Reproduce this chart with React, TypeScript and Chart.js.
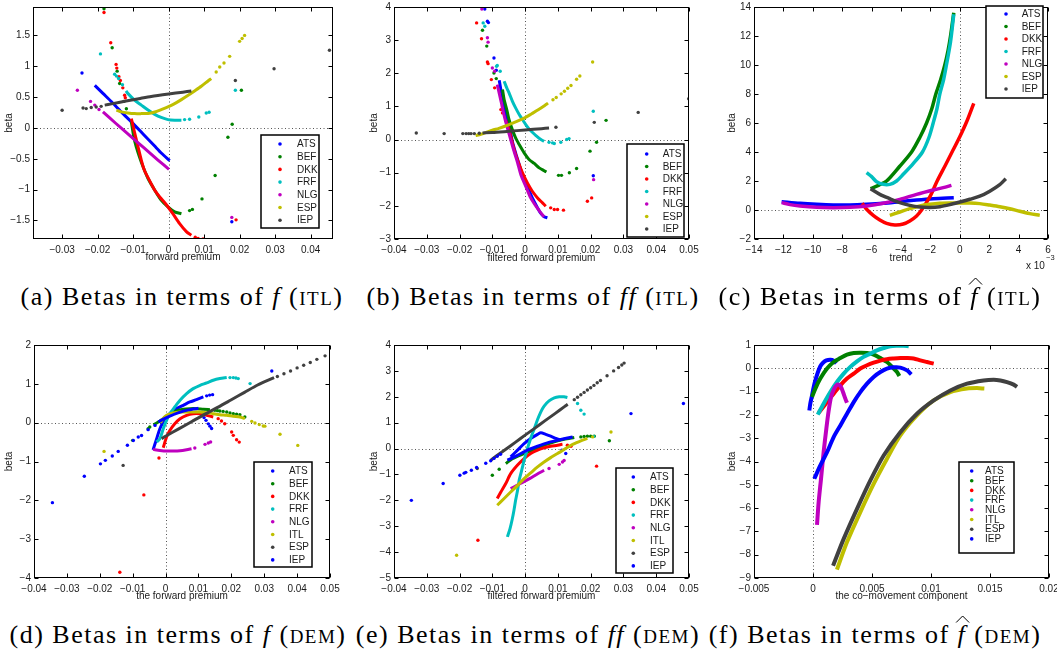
import React, { useEffect, useRef } from 'react';
import { Chart, registerables } from 'chart.js';
Chart.register(...registerables);

type Pt = [number, number];

// ---------- colours & series names ----------
const BLUE = '#0000ff', GREEN = '#008000', RED = '#ff0000', CYAN = '#00bfbf', MAGENTA = '#bf00bf', YELLOW = '#bfbf00', GRAY = '#404040';
const NAMES_ITL = ['ATS', 'BEF', 'DKK', 'FRF', 'NLG', 'ESP', 'IEP'];
const COLORS_ITL = [BLUE, GREEN, RED, CYAN, MAGENTA, YELLOW, GRAY];
const NAMES_DEM = ['ATS', 'BEF', 'DKK', 'FRF', 'NLG', 'ITL', 'ESP', 'IEP'];
const COLORS_DEM = [BLUE, GREEN, RED, CYAN, MAGENTA, YELLOW, GRAY, BLUE];

// ---------- ticks ----------
const A_XTICKS = [-0.03, -0.02, -0.01, 0, 0.01, 0.02, 0.03, 0.04];
const A_YTICKS = [-1.5, -1, -0.5, 0, 0.5, 1, 1.5];
const B_XTICKS = [-0.04, -0.03, -0.02, -0.01, 0, 0.01, 0.02, 0.03, 0.04, 0.05];
const B_YTICKS = [-3, -2, -1, 0, 1, 2, 3, 4];
const C_XTICKS = [-14, -12, -10, -8, -6, -4, -2, 0, 2, 4, 6];
const C_YTICKS = [-2, 0, 2, 4, 6, 8, 10, 12, 14];
const D_XTICKS = [-0.04, -0.03, -0.02, -0.01, 0, 0.01, 0.02, 0.03, 0.04, 0.05];
const D_YTICKS = [-4, -3, -2, -1, 0, 1, 2];
const E_XTICKS = [-0.04, -0.03, -0.02, -0.01, 0, 0.01, 0.02, 0.03, 0.04, 0.05];
const E_YTICKS = [-5, -4, -3, -2, -1, 0, 1, 2, 3, 4];
const F_XTICKS = [-0.005, 0, 0.005, 0.01, 0.015, 0.02];
const F_YTICKS = [-9, -8, -7, -6, -5, -4, -3, -2, -1, 0, 1];

// ---------- (a) betas vs f (ITL) ----------
const A_ATS_LINE: Pt[] = [[-0.0208,0.69],[-0.0185,0.56],[-0.016,0.42],[-0.013,0.24],[-0.010,0.07],[-0.007,-0.11],[-0.004,-0.29],[-0.002,-0.41],[0.0003,-0.53]];
const A_ATS_DOTS: Pt[] = [[-0.0244,0.89],[0.0178,-1.52]];
const A_BEF_LINE: Pt[] = [[-0.0105,0.10],[-0.0098,-0.15],[-0.0091,-0.31],[-0.0082,-0.47],[-0.0072,-0.63],[-0.0058,-0.82],[-0.0039,-1.01],[-0.0021,-1.17],[-0.0002,-1.28],[0.0017,-1.36],[0.0036,-1.39]];
const A_BEF_DOTS: Pt[] = [[-0.0182,1.93],[-0.0159,1.30],[-0.0145,0.92],[-0.0138,0.72],[-0.0126,0.43],[-0.0119,0.31],[0.0059,-1.34],[0.0067,-1.32],[0.0094,-1.15],[0.0131,-0.77],[0.0167,-0.15],[0.0179,0.06],[0.0205,0.61]];
const A_DKK_LINE: Pt[] = [[-0.0105,0.15],[-0.0096,-0.07],[-0.0086,-0.31],[-0.0077,-0.52],[-0.0068,-0.69],[-0.0054,-0.85],[-0.0039,-1.01],[-0.0025,-1.12],[-0.0007,-1.24],[0.0012,-1.39],[0.0031,-1.55],[0.0050,-1.68],[0.0064,-1.74]];
const A_DKK_DOTS: Pt[] = [[-0.0182,1.87],[-0.0163,1.38],[-0.0148,1.03],[-0.0146,0.97],[-0.0140,0.83],[-0.0136,0.77],[-0.0129,0.65],[-0.0124,0.53],[-0.0122,0.49],[0.0075,-1.77],[0.0083,-1.79],[0.0097,-1.80],[0.0120,-1.81],[0.0190,-1.49]];
const A_FRF_LINE: Pt[] = [[-0.0120,0.60],[-0.0115,0.56],[-0.0096,0.45],[-0.0077,0.37],[-0.0058,0.29],[-0.0039,0.22],[-0.0021,0.17],[-0.0002,0.135],[0.0017,0.124],[0.0036,0.124]];
const A_FRF_DOTS: Pt[] = [[-0.0192,1.20],[-0.0152,0.87],[-0.0147,0.84],[-0.0141,0.80],[-0.0130,0.70],[0.0045,0.135],[0.0059,0.14],[0.0085,0.178],[0.0106,0.243],[0.0114,0.254],[0.0188,0.61]];
const A_NLG_LINE: Pt[] = [[-0.0185,0.26],[-0.015,0.08],[-0.011,-0.12],[-0.007,-0.32],[-0.003,-0.52],[0.0001,-0.67]];
const A_NLG_DOTS: Pt[] = [[-0.0257,0.61],[-0.0220,0.43],[-0.0208,0.37],[-0.0196,0.30],[0.0178,-1.45]];
const A_ESP_LINE: Pt[] = [[-0.0147,0.29],[-0.0133,0.26],[-0.0115,0.243],[-0.0096,0.232],[-0.0077,0.232],[-0.0058,0.235],[-0.0039,0.259],[-0.0021,0.297],[-0.0002,0.34],[0.0017,0.394],[0.0036,0.459],[0.0055,0.529],[0.0073,0.599],[0.0092,0.675],[0.0111,0.761],[0.0120,0.80]];
const A_ESP_DOTS: Pt[] = [[0.0134,0.907],[0.0144,0.988],[0.0156,1.052],[0.0172,1.16],[0.0200,1.403],[0.0207,1.45],[0.0214,1.50]];
const A_IEP_LINE: Pt[] = [[-0.0180,0.37],[-0.0161,0.39],[-0.0120,0.435],[-0.0080,0.478],[-0.0049,0.51],[0.0,0.55],[0.0040,0.58],[0.0064,0.60]];
const A_IEP_DOTS: Pt[] = [[-0.0300,0.286],[-0.0241,0.324],[-0.0232,0.313],[-0.0218,0.33],[-0.0204,0.34],[-0.0190,0.35],[0.0188,0.77],[0.0297,0.96],[0.0453,1.26]];

// ---------- (b) betas vs ff (ITL) ----------
const B_ATS_LINE: Pt[] = [[-0.0079,1.79],[-0.0074,1.51],[-0.0069,1.29],[-0.0064,1.06],[-0.0059,0.80],[-0.0054,0.60],[-0.0046,0.30],[-0.0039,-0.05],[-0.0029,-0.40],[-0.0018,-0.75],[-0.0008,-1.06],[0.0007,-1.41],[0.0022,-1.76],[0.0038,-2.06],[0.0048,-2.23],[0.0058,-2.33],[0.0068,-2.36]];
const B_ATS_DOTS: Pt[] = [[-0.0123,3.94],[-0.0115,3.57],[-0.0112,3.53],[-0.0095,2.46],[-0.0088,2.09],[0.0208,-1.09]];
const B_BEF_LINE: Pt[] = [[-0.0069,1.51],[-0.0064,1.21],[-0.0056,0.905],[-0.0049,0.60],[-0.0039,0.30],[-0.0029,0.05],[-0.0018,-0.15],[-0.0003,-0.40],[0.0012,-0.60],[0.0028,-0.72],[0.0043,-0.855],[0.0058,-0.94],[0.0065,-0.98]];
const B_BEF_DOTS: Pt[] = [[-0.0130,3.30],[-0.0117,2.82],[-0.0095,2.01],[-0.0088,1.84],[0.0102,-1.08],[0.0111,-1.08],[0.0135,-1.0],[0.0157,-0.875],[0.0198,-0.35],[0.0218,-0.08],[0.0247,0.58]];
const B_DKK_LINE: Pt[] = [[-0.0060,0.60],[-0.0049,0.30],[-0.0039,-0.10],[-0.0029,-0.45],[-0.0018,-0.755],[-0.0008,-1.006],[0.0007,-1.31],[0.0022,-1.56],[0.0038,-1.76],[0.0053,-1.91],[0.0063,-2.01]];
const B_DKK_DOTS: Pt[] = [[-0.0148,3.52],[-0.0133,3.04],[-0.0115,2.34],[-0.0113,2.29],[-0.0103,1.81],[-0.0093,1.56],[-0.0074,0.905],[-0.0069,0.805],[0.0078,-2.06],[0.0089,-2.11],[0.0099,-2.11],[0.0117,-2.13],[0.0190,-1.86],[0.0203,-1.76]];
const B_FRF_LINE: Pt[] = [[-0.0064,1.76],[-0.0056,1.56],[-0.0049,1.41],[-0.0039,1.16],[-0.0029,0.956],[-0.0018,0.755],[-0.0008,0.604],[0.0002,0.453],[0.0012,0.322],[0.0022,0.221],[0.0033,0.121],[0.0048,0.0],[0.0058,-0.05]];
const B_FRF_DOTS: Pt[] = [[-0.0128,3.52],[-0.0123,3.42],[-0.0087,2.21],[-0.0085,2.24],[-0.0076,2.06],[0.0073,-0.08],[0.0084,-0.10],[0.0089,-0.12],[0.0109,-0.08],[0.0127,0.0],[0.0134,0.03],[0.0208,0.855]];
const B_NLG_LINE: Pt[] = [[-0.0085,1.66],[-0.0077,1.31],[-0.0072,1.09],[-0.0067,0.855],[-0.0061,0.60],[-0.0054,0.35],[-0.0044,0.0],[-0.0034,-0.35],[-0.0023,-0.70],[-0.0013,-1.06],[0.0002,-1.41],[0.0017,-1.76],[0.0033,-2.01],[0.0048,-2.21],[0.0058,-2.33]];
const B_NLG_DOTS: Pt[] = [[-0.0132,3.94],[-0.0115,3.07],[-0.0113,2.94],[-0.0100,2.16],[-0.0093,2.06],[0.0209,-1.21]];
const B_ESP_LINE: Pt[] = [[-0.0151,0.12],[-0.0135,0.16],[-0.012,0.21],[-0.010,0.28],[-0.008,0.34],[-0.006,0.41],[-0.004,0.49],[-0.002,0.57],[0.0,0.66],[0.002,0.78],[0.004,0.90],[0.006,1.03],[0.007,1.10]];
const B_ESP_DOTS: Pt[] = [[0.0085,1.20],[0.0095,1.27],[0.011,1.38],[0.012,1.46],[0.013,1.55],[0.014,1.63],[0.0157,1.82],[0.0167,1.92],[0.0206,2.34]];
const B_IEP_LINE: Pt[] = [[-0.013,0.20],[-0.010,0.21],[-0.005,0.25],[0.0,0.29],[0.005,0.33],[0.0073,0.35]];
const B_IEP_DOTS: Pt[] = [[-0.0332,0.20],[-0.0247,0.18],[-0.0190,0.18],[-0.0180,0.18],[-0.0172,0.18],[-0.0165,0.18],[-0.0155,0.18],[-0.0140,0.19],[0.0094,0.37],[0.0211,0.52],[0.0345,0.82],[0.0499,1.23]];

// ---------- (c) betas vs trend (ITL), x in units of 1e-3 ----------
const C_ATS: Pt[] = [[-12.12,0.575],[-10.87,0.46],[-9.74,0.39],[-8.61,0.345],[-7.47,0.345],[-6.34,0.39],[-5.21,0.46],[-4.08,0.575],[-2.94,0.69],[-1.81,0.78],[-0.41,0.85]];
const C_BEF: Pt[] = [[-6.07,1.47],[-5.5,1.72],[-4.98,2.0],[-4.1,3.0],[-3.28,4.0],[-2.72,5.0],[-2.26,6.0],[-1.9,7.0],[-1.63,8.0],[-1.3,9.0],[-1.02,10.0],[-0.8,11.0],[-0.63,12.0],[-0.41,13.6]];
const C_DKK: Pt[] = [[-6.64,0.46],[-6.34,0.05],[-5.89,-0.37],[-5.44,-0.69],[-4.98,-0.92],[-4.42,-1.03],[-3.85,-0.97],[-3.40,-0.76],[-2.94,-0.41],[-2.60,0.0],[-2.04,0.9],[-1.54,2.0],[-1.0,3.05],[-0.45,4.15],[0.0,5.05],[0.45,6.05],[0.95,7.36]];
const C_FRF: Pt[] = [[-6.34,2.57],[-6.0,2.3],[-5.66,1.95],[-5.21,1.77],[-4.76,1.77],[-4.30,2.0],[-3.85,2.46],[-3.17,3.2],[-2.54,4.0],[-2.1,5.0],[-1.81,6.0],[-1.55,7.0],[-1.36,8.0],[-1.1,9.0],[-0.91,10.0],[-0.63,11.6],[-0.41,13.5]];
const C_NLG: Pt[] = [[-12.12,0.506],[-11.55,0.37],[-10.87,0.276],[-9.74,0.184],[-8.61,0.16],[-7.47,0.184],[-6.34,0.276],[-5.21,0.46],[-4.08,0.736],[-2.94,1.08],[-1.81,1.38],[-1.13,1.54],[-0.57,1.70]];
const C_ESP: Pt[] = [[-4.76,-0.37],[-4.08,-0.14],[-3.40,0.09],[-2.72,0.28],[-2.04,0.39],[-1.36,0.46],[-0.68,0.48],[0.0,0.48],[0.68,0.48],[1.36,0.44],[2.04,0.34],[2.72,0.23],[3.40,0.09],[4.08,-0.09],[4.76,-0.25],[5.44,-0.37]];
const C_IEP: Pt[] = [[-6.07,1.47],[-5.44,1.08],[-4.76,0.78],[-4.08,0.51],[-3.40,0.32],[-2.72,0.21],[-2.04,0.18],[-1.36,0.23],[-0.68,0.37],[0.0,0.55],[0.68,0.74],[1.36,0.95],[2.04,1.3],[2.72,1.75],[3.13,2.16]];

// ---------- (d) betas vs f (DEM) ----------
const D_ATS_LINE: Pt[] = [[-0.0038,-0.70],[-0.0027,-0.41],[-0.0017,-0.15],[-0.0007,0.02],[0.0003,0.146],[0.0013,0.232],[0.0034,0.361],[0.0054,0.447],[0.0074,0.533],[0.0094,0.593],[0.0115,0.662]];
const D_ATS_DOTS: Pt[] = [[0.0125,0.69],[0.0134,0.71],[0.0143,0.722],[0.0117,0.13],[0.0123,0.06],[0.0130,-0.03],[0.0135,-0.09],[0.0140,-0.15],[0.0323,1.33]];
const D_BEF_LINE: Pt[] = [[-0.0037,-0.052],[-0.0027,-0.009],[-0.0017,0.043],[-0.0007,0.103],[0.0013,0.215],[0.0034,0.301],[0.0054,0.344],[0.0074,0.361],[0.0094,0.361],[0.0115,0.344],[0.0135,0.335]];
const D_BEF_DOTS: Pt[] = [[-0.0100,-0.456],[-0.0053,-0.155],[-0.0048,-0.112],[0.0150,0.318],[0.0158,0.31],[0.0165,0.301],[0.0175,0.29],[0.0186,0.275],[0.0196,0.25],[0.0206,0.232],[0.0216,0.22],[0.0226,0.206],[0.0241,0.146]];
const D_DKK_LINE: Pt[] = [[-0.0007,-0.645],[0.0003,-0.37],[0.0013,-0.20],[0.0028,-0.026],[0.0044,0.103],[0.0064,0.19],[0.0084,0.232],[0.0104,0.232],[0.0125,0.19],[0.0145,0.146]];
const D_DKK_DOTS: Pt[] = [[-0.0139,-3.85],[-0.0066,-1.86],[-0.0020,-0.91],[0.0160,0.103],[0.0170,0.043],[0.0180,-0.026],[0.0201,-0.24],[0.0206,-0.327],[0.0216,-0.44],[0.0224,-0.50]];
const D_FRF_LINE: Pt[] = [[-0.0027,-0.50],[-0.0017,-0.41],[-0.0007,-0.155],[0.0003,0.06],[0.0013,0.232],[0.0028,0.404],[0.0044,0.576],[0.0064,0.748],[0.0084,0.877],[0.0105,0.963],[0.0125,1.023],[0.0145,1.092],[0.0165,1.135],[0.0186,1.161]];
const D_FRF_DOTS: Pt[] = [[0.0196,1.16],[0.0206,1.161],[0.0214,1.15],[0.0221,1.135],[0.0257,1.006]];
const D_NLG_LINE: Pt[] = [[-0.0038,-0.688],[-0.0017,-0.714],[0.0003,-0.731],[0.0023,-0.731],[0.0044,-0.722],[0.0064,-0.696],[0.0079,-0.671]];
const D_NLG_DOTS: Pt[] = [[0.0089,-0.653],[0.0120,-0.559],[0.0130,-0.524],[0.0137,-0.499]];
const D_ITL_LINE: Pt[] = [[-0.0015,0.0],[-0.0008,0.10],[0.0003,0.19],[0.0023,0.249],[0.0044,0.275],[0.0064,0.275],[0.0104,0.275],[0.0125,0.258],[0.0145,0.232],[0.0165,0.206],[0.0186,0.189],[0.0206,0.163],[0.0226,0.146],[0.0241,0.103]];
const D_ITL_DOTS: Pt[] = [[-0.0187,-0.74],[0.0262,0.034],[0.0272,-0.009],[0.0285,-0.05],[0.0297,-0.086],[0.0302,-0.09],[0.0348,-0.30],[0.0402,-0.585]];
const D_ESP_LINE: Pt[] = [[-0.0012,-0.41],[0.0,-0.35],[0.004,-0.16],[0.008,0.03],[0.012,0.22],[0.016,0.40],[0.020,0.59],[0.024,0.78],[0.028,0.97],[0.033,1.16]];
const D_ESP_DOTS: Pt[] = [[-0.0129,-1.10],[0.034,1.19],[0.036,1.26],[0.038,1.33],[0.040,1.41],[0.042,1.48],[0.044,1.55],[0.046,1.63],[0.0485,1.72]];
const D_IEP_LINE: Pt[] = [[-0.0022,0.02],[0.0008,0.15],[0.004,0.26],[0.007,0.33],[0.0100,0.37]];
const D_IEP_DOTS: Pt[] = [[-0.0344,-2.06],[-0.0247,-1.38],[-0.0198,-1.06],[-0.0183,-0.97],[-0.0162,-0.86],[-0.0144,-0.74],[-0.0116,-0.58],[-0.0098,-0.46],[-0.0083,-0.37],[-0.0073,-0.33],[-0.0053,-0.18],[-0.0032,-0.07]];

// ---------- (e) betas vs ff (DEM) ----------
const E_ATS_LINE: Pt[] = [[-0.0044,-0.32],[-0.0023,-0.06],[-0.0003,0.19],[0.0017,0.39],[0.0038,0.55],[0.0048,0.61],[0.0063,0.55],[0.0078,0.48],[0.0094,0.39],[0.0109,0.32]];
const E_ATS_DOTS: Pt[] = [[0.0112,-0.06],[0.0124,-0.19],[0.0323,1.35],[0.0483,1.74]];
const E_BEF_LINE: Pt[] = [[-0.0059,-0.58],[-0.0039,-0.39],[-0.0003,-0.19],[0.0028,-0.03],[0.0058,0.13],[0.0089,0.26],[0.0119,0.36],[0.0150,0.43]];
const E_BEF_DOTS: Pt[] = [[-0.0100,-1.03],[-0.0079,-0.80],[0.0170,0.45],[0.0180,0.47],[0.0190,0.48],[0.0200,0.48],[0.0211,0.48],[0.0257,0.30]];
const E_DKK_LINE: Pt[] = [[-0.0085,-1.93],[-0.0074,-1.68],[-0.0059,-1.35],[-0.0044,-0.97],[-0.0023,-0.64],[-0.0003,-0.39],[0.0017,-0.19],[0.0038,-0.06],[0.0058,0.03],[0.0078,0.09],[0.0099,0.13],[0.0114,0.17]];
const E_DKK_DOTS: Pt[] = [[-0.0144,-3.54],[0.0129,0.13],[0.0140,0.09],[0.0218,-0.68]];
const E_FRF_LINE: Pt[] = [[-0.0054,-3.41],[-0.0046,-3.09],[-0.0039,-2.71],[-0.0034,-2.38],[-0.0029,-2.0],[-0.0023,-1.61],[-0.0018,-1.22],[-0.0013,-0.97],[-0.0008,-0.71],[-0.0003,-0.45],[0.0007,0.0],[0.0017,0.39],[0.0028,0.77],[0.0038,1.12],[0.0048,1.42],[0.0058,1.64],[0.0073,1.84],[0.0089,1.96],[0.0104,2.0],[0.0119,2.0],[0.0129,1.97]];
const E_FRF_DOTS: Pt[] = [[0.0160,1.74],[0.0170,1.48],[0.0180,1.33],[0.0209,0.47]];
const E_NLG_LINE: Pt[] = [[-0.0044,-1.55],[-0.0025,-1.42],[-0.0005,-1.29],[0.0015,-1.15],[0.0035,-1.0],[0.0058,-0.84]];
const E_NLG_DOTS: Pt[] = [[0.0073,-0.77],[0.0104,-0.61],[0.0114,-0.52],[0.0119,-0.46]];
const E_ITL_LINE: Pt[] = [[-0.0085,-2.19],[-0.0064,-1.93],[-0.0044,-1.68],[-0.0023,-1.42],[-0.0003,-1.16],[0.0017,-0.94],[0.0038,-0.71],[0.0058,-0.52],[0.0078,-0.35],[0.0099,-0.19],[0.0119,-0.04],[0.0140,0.13],[0.0155,0.22],[0.0170,0.30],[0.0190,0.39]];
const E_ITL_DOTS: Pt[] = [[-0.0209,-4.12],[0.0206,0.45],[0.0262,0.64]];
const E_ESP_LINE: Pt[] = [[-0.0105,-0.45],[-0.009,-0.31],[-0.006,-0.04],[-0.003,0.24],[0.0,0.52],[0.003,0.79],[0.006,1.07],[0.009,1.34],[0.012,1.62],[0.013,1.71]];
const E_ESP_DOTS: Pt[] = [[-0.0146,-0.77],[0.015,1.89],[0.016,1.98],[0.017,2.08],[0.018,2.17],[0.019,2.26],[0.020,2.35],[0.021,2.44],[0.022,2.54],[0.023,2.63],[0.025,2.81],[0.027,3.00],[0.0285,3.13],[0.0295,3.23],[0.0302,3.30]];
const E_IEP_LINE: Pt[] = [[-0.0054,-0.45],[-0.0023,-0.26],[0.0007,-0.06],[0.0038,0.09],[0.0068,0.22],[0.0099,0.32],[0.0129,0.41],[0.0145,0.45]];
const E_IEP_DOTS: Pt[] = [[-0.0347,-2.0],[-0.0250,-1.35],[-0.0199,-1.03],[-0.0186,-0.95],[-0.0181,-0.92],[-0.0164,-0.84],[-0.0148,-0.73],[-0.0120,-0.57],[-0.0105,-0.47],[-0.0095,-0.38],[-0.0085,-0.30],[-0.0075,-0.22]];

// ---------- (f) betas vs co-movement component (DEM) ----------
const F_ATS: Pt[] = [[-0.00031,-1.81],[-0.00023,-1.52],[-0.00008,-1.16],[0.00006,-0.80],[0.0002,-0.52],[0.0004,-0.19],[0.00062,0.09],[0.00085,0.24],[0.00113,0.34],[0.00147,0.37],[0.00175,0.33],[0.00198,0.21]];
const F_BEF: Pt[] = [[-0.00008,-1.23],[0.0002,-0.87],[0.00062,-0.44],[0.00119,-0.01],[0.00175,0.27],[0.00232,0.44],[0.00288,0.59],[0.00345,0.66],[0.00401,0.67],[0.00458,0.66],[0.00514,0.59],[0.00571,0.44],[0.00627,0.27],[0.0067,0.06],[0.00712,-0.16],[0.00732,-0.33]];
const F_DKK: Pt[] = [[0.00048,-1.91],[0.00119,-1.45],[0.00175,-1.09],[0.00232,-0.73],[0.00288,-0.44],[0.00345,-0.23],[0.00401,-0.01],[0.00458,0.13],[0.00514,0.24],[0.00571,0.33],[0.00627,0.39],[0.00684,0.42],[0.0074,0.44],[0.00797,0.44],[0.00853,0.42],[0.0091,0.34],[0.00966,0.27],[0.01023,0.20]];
const F_FRF: Pt[] = [[0.0004,-1.99],[0.0009,-1.52],[0.00147,-1.02],[0.00203,-0.59],[0.0026,-0.23],[0.00316,0.06],[0.00373,0.30],[0.00429,0.49],[0.00486,0.63],[0.00542,0.77],[0.00599,0.87],[0.00655,0.95],[0.00712,0.97],[0.00768,0.97],[0.00811,0.95]];
const F_NLG: Pt[] = [[0.00034,-6.72],[0.00048,-5.74],[0.00068,-4.74],[0.0009,-3.60],[0.00113,-2.59],[0.00133,-1.81],[0.00153,-1.23],[0.00175,-0.92],[0.00198,-0.73],[0.00218,-0.70],[0.00237,-0.80],[0.00254,-1.02],[0.00274,-1.30],[0.00288,-1.48]];
const F_ITL: Pt[] = [[0.00203,-8.64],[0.00288,-7.46],[0.00401,-6.17],[0.00514,-4.96],[0.00627,-3.88],[0.0074,-2.88],[0.00881,-2.02],[0.01023,-1.38],[0.01164,-1.02],[0.01305,-0.87],[0.0139,-0.85],[0.01452,-0.87]];
const F_ESP: Pt[] = [[0.0017,-8.47],[0.0026,-7.32],[0.00373,-6.03],[0.00486,-4.81],[0.00599,-3.74],[0.0074,-2.74],[0.00881,-1.95],[0.01023,-1.38],[0.01164,-0.95],[0.01305,-0.66],[0.01446,-0.52],[0.01531,-0.49],[0.01588,-0.52],[0.01644,-0.59],[0.01701,-0.70],[0.01729,-0.80]];
const F_IEP: Pt[] = [[0.00011,-4.74],[0.00062,-4.17],[0.00119,-3.60],[0.00175,-2.95],[0.00232,-2.45],[0.00288,-1.95],[0.00345,-1.45],[0.00401,-1.02],[0.00458,-0.66],[0.00514,-0.37],[0.00571,-0.16],[0.00627,-0.01],[0.00684,0.04],[0.0074,0.03],[0.00797,-0.09],[0.00833,-0.26]];

// ---------- panel setup ----------
type Series = { label: string; color: string; line: Pt[]; dots: Pt[] };
type Legend = { x: number; y: number; w: number; h: number; row0: number; step: number; markX: number; textX: number };
type Panel = {
  key: string;
  box: [number, number, number, number];
  area: [number, number, number, number];
  xRange: [number, number];
  yRange: [number, number];
  xTicks: number[];
  yTicks: number[];
  xTitle: string;
  yTitle: string;
  xTitleY: number;
  yTitleX: number;
  series: Series[];
  legend: Legend;
  lineWidth: number;
  tension: number;
};

const mk = (names: string[], colors: string[], lines: Pt[][], dots: Pt[][]): Series[] =>
  names.map((n, i) => ({ label: n, color: colors[i], line: lines[i], dots: dots[i] }));

const PANELS: Panel[] = [
  {
    key: 'a', box: [0, 0, 350, 270], area: [33, 7, 333, 239],
    xRange: [-0.0382, 0.0463], yRange: [-1.8, 1.96], xTicks: A_XTICKS, yTicks: A_YTICKS,
    xTitle: 'forward premium', yTitle: 'beta', xTitleY: 257, yTitleX: 9,
    series: mk(NAMES_ITL, COLORS_ITL,
      [A_ATS_LINE, A_BEF_LINE, A_DKK_LINE, A_FRF_LINE, A_NLG_LINE, A_ESP_LINE, A_IEP_LINE],
      [A_ATS_DOTS, A_BEF_DOTS, A_DKK_DOTS, A_FRF_DOTS, A_NLG_DOTS, A_ESP_DOTS, A_IEP_DOTS]),
    legend: { x: 261, y: 135, w: 58, h: 93, row0: 144, step: 12.7, markX: 280, textX: 297 },
    lineWidth: 3, tension: 0.25,
  },
  {
    key: 'b', box: [350, 0, 350, 270], area: [394, 7, 689, 239],
    xRange: [-0.04, 0.05], yRange: [-3, 4], xTicks: B_XTICKS, yTicks: B_YTICKS,
    xTitle: 'filtered forward premium', yTitle: 'beta', xTitleY: 258, yTitleX: 374,
    series: mk(NAMES_ITL, COLORS_ITL,
      [B_ATS_LINE, B_BEF_LINE, B_DKK_LINE, B_FRF_LINE, B_NLG_LINE, B_ESP_LINE, B_IEP_LINE],
      [B_ATS_DOTS, B_BEF_DOTS, B_DKK_DOTS, B_FRF_DOTS, B_NLG_DOTS, B_ESP_DOTS, B_IEP_DOTS]),
    legend: { x: 277, y: 144, w: 57, h: 93, row0: 154, step: 12.5, markX: 296.7, textX: 312.7 },
    lineWidth: 3, tension: 0.25,
  },
  {
    key: 'c', box: [700, 0, 357, 270], area: [754, 7, 1048, 239],
    xRange: [-14, 6], yRange: [-2, 14], xTicks: C_XTICKS, yTicks: C_YTICKS,
    xTitle: 'trend', yTitle: 'beta', xTitleY: 258, yTitleX: 732,
    series: mk(NAMES_ITL, COLORS_ITL,
      [C_ATS, C_BEF, C_DKK, C_FRF, C_NLG, C_ESP, C_IEP],
      [[], [], [], [], [], [], []]),
    legend: { x: 286, y: 6, w: 57, h: 92, row0: 14, step: 12.5, markX: 306, textX: 321.7 },
    lineWidth: 3.5, tension: 0.3,
  },
  {
    key: 'd', box: [0, 335, 350, 270], area: [34, 345, 330, 578],
    xRange: [-0.04, 0.05], yRange: [-4, 2], xTicks: D_XTICKS, yTicks: D_YTICKS,
    xTitle: 'the forward premium', yTitle: 'beta', xTitleY: 596, yTitleX: 9,
    series: mk(NAMES_DEM, COLORS_DEM,
      [D_ATS_LINE, D_BEF_LINE, D_DKK_LINE, D_FRF_LINE, D_NLG_LINE, D_ITL_LINE, D_ESP_LINE, D_IEP_LINE],
      [D_ATS_DOTS, D_BEF_DOTS, D_DKK_DOTS, D_FRF_DOTS, D_NLG_DOTS, D_ITL_DOTS, D_ESP_DOTS, D_IEP_DOTS]),
    legend: { x: 254, y: 127, w: 58, h: 105, row0: 136, step: 12.7, markX: 272.7, textX: 289 },
    lineWidth: 3, tension: 0.25,
  },
  {
    key: 'e', box: [350, 335, 350, 270], area: [394, 345, 689, 578],
    xRange: [-0.04, 0.05], yRange: [-5, 4], xTicks: E_XTICKS, yTicks: E_YTICKS,
    xTitle: 'filtered forward premium', yTitle: 'beta', xTitleY: 596, yTitleX: 374,
    series: mk(NAMES_DEM, COLORS_DEM,
      [E_ATS_LINE, E_BEF_LINE, E_DKK_LINE, E_FRF_LINE, E_NLG_LINE, E_ITL_LINE, E_ESP_LINE, E_IEP_LINE],
      [E_ATS_DOTS, E_BEF_DOTS, E_DKK_DOTS, E_FRF_DOTS, E_NLG_DOTS, E_ITL_DOTS, E_ESP_DOTS, E_IEP_DOTS]),
    legend: { x: 266, y: 133, w: 57, h: 105, row0: 142, step: 12.7, markX: 283.3, textX: 300 },
    lineWidth: 3, tension: 0.25,
  },
  {
    key: 'f', box: [700, 335, 357, 270], area: [754, 345, 1049, 578],
    xRange: [-0.005, 0.02], yRange: [-9, 1], xTicks: F_XTICKS, yTicks: F_YTICKS,
    xTitle: 'the co\u2212movement component', yTitle: 'beta', xTitleY: 596, yTitleX: 732,
    series: mk(NAMES_DEM, COLORS_DEM,
      [F_ATS, F_BEF, F_DKK, F_FRF, F_NLG, F_ITL, F_ESP, F_IEP],
      [[], [], [], [], [], [], [], []]),
    legend: { x: 259, y: 127, w: 55, h: 91, row0: 136, step: 9.7, markX: 271.7, textX: 285 },
    lineWidth: 4, tension: 0.3,
  },
];

const SANS = '"Liberation Sans", Arial, Helvetica, sans-serif';
const fmtTick = (v: number) => {
  const r = Math.round(v * 1e6) / 1e6;
  return (r < 0 ? '\u2212' : '') + String(Math.abs(r));
};

function PanelChart({ p }: { p: Panel }) {
  const ref = useRef<HTMLCanvasElement | null>(null);
  useEffect(() => {
    const [cl, ct, cw, ch] = p.box;
    const [L, T, R, B] = p.area;
    const n = p.series.length;
    const datasets: any[] = [];
    p.series.forEach((s, i) => {
      if (s.line.length) {
        datasets.push({
          label: s.label, data: s.line.map(([x, y]) => ({ x, y })), showLine: true,
          borderColor: s.color, backgroundColor: s.color, borderWidth: p.lineWidth,
          pointRadius: 0, tension: p.tension, order: n - i, clip: 0,
        });
      }
      if (s.dots.length) {
        datasets.push({
          label: s.label, data: s.dots.map(([x, y]) => ({ x, y })), showLine: false,
          pointRadius: 1.7, pointBorderWidth: 0, pointBackgroundColor: s.color,
          backgroundColor: s.color, borderColor: s.color, order: n - i, clip: 0,
        });
      }
    });

    const font = { family: SANS, size: 10 };
    const lg = p.legend;
    const framePlugin = {
      id: 'matlabFrame' + p.key,
      beforeDatasetsDraw(chart: any) {
        const { ctx, chartArea: a, scales } = chart;
        ctx.save();
        ctx.strokeStyle = '#555';
        ctx.lineWidth = 1;
        ctx.setLineDash([1, 2.5]);
        const px = Math.round(scales.x.getPixelForValue(0)) + 0.5;
        const py = Math.round(scales.y.getPixelForValue(0)) + 0.5;
        ctx.beginPath();
        ctx.moveTo(px, a.top); ctx.lineTo(px, a.bottom);
        ctx.moveTo(a.left, py); ctx.lineTo(a.right, py);
        ctx.stroke();
        ctx.restore();
      },
      afterDatasetsDraw(chart: any) {
        const { ctx, chartArea: a, scales } = chart;
        ctx.save();
        ctx.setLineDash([]);
        ctx.strokeStyle = '#000';
        ctx.lineWidth = 1;
        const l = Math.round(a.left) + 0.5, r = Math.round(a.right) - 0.5;
        const t = Math.round(a.top) + 0.5, b = Math.round(a.bottom) - 0.5;
        ctx.strokeRect(l, t, r - l, b - t);
        ctx.beginPath();
        const tl = 4;
        scales.x.ticks.forEach((tk: any) => {
          const x = Math.round(scales.x.getPixelForValue(tk.value)) + 0.5;
          ctx.moveTo(x, b); ctx.lineTo(x, b - tl);
          ctx.moveTo(x, t); ctx.lineTo(x, t + tl);
        });
        scales.y.ticks.forEach((tk: any) => {
          const y = Math.round(scales.y.getPixelForValue(tk.value)) + 0.5;
          ctx.moveTo(l, y); ctx.lineTo(l + tl, y);
          ctx.moveTo(r, y); ctx.lineTo(r - tl, y);
        });
        ctx.stroke();
        // legend box
        ctx.fillStyle = '#fff';
        ctx.fillRect(lg.x, lg.y, lg.w, lg.h);
        ctx.lineWidth = 1.5;
        ctx.strokeRect(lg.x, lg.y, lg.w, lg.h);
        ctx.font = `10px ${SANS}`;
        ctx.textBaseline = 'middle';
        ctx.textAlign = 'left';
        p.series.forEach((s, i) => {
          const y = lg.row0 + i * lg.step;
          ctx.fillStyle = s.color;
          ctx.beginPath();
          ctx.arc(lg.markX, y, 1.8, 0, Math.PI * 2);
          ctx.fill();
          ctx.fillStyle = '#1a1a1a';
          ctx.fillText(s.label, lg.textX, y + 0.5);
        });
        ctx.restore();
      },
    };

    const chart = new Chart(ref.current as HTMLCanvasElement, {
      type: 'scatter',
      data: { datasets },
      options: {
        animation: false,
        responsive: false,
        devicePixelRatio: 1,
        events: [],
        layout: { autoPadding: false, padding: { left: 0, top: T - ct, right: cl + cw - R, bottom: 0 } },
        plugins: { legend: { display: false }, tooltip: { enabled: false } },
        scales: {
          x: {
            type: 'linear', position: 'bottom', min: p.xRange[0], max: p.xRange[1],
            afterBuildTicks: (s: any) => { s.ticks = p.xTicks.map((v) => ({ value: v })); },
            afterFit: (s: any) => { s.height = ct + ch - B; s.paddingLeft = 0; s.paddingRight = 0; },
            ticks: { autoSkip: false, maxRotation: 0, minRotation: 0, padding: 5, font, color: '#1a1a1a', callback: (v: any) => fmtTick(Number(v)) },
            grid: { display: false, drawTicks: false, tickLength: 0 },
            border: { display: false },
            title: { display: true, text: p.xTitle, font, color: '#1a1a1a', padding: { top: 0, bottom: ct + ch - p.xTitleY - 6 } },
          },
          y: {
            type: 'linear', position: 'left', min: p.yRange[0], max: p.yRange[1],
            afterBuildTicks: (s: any) => { s.ticks = p.yTicks.map((v) => ({ value: v })); },
            afterFit: (s: any) => { s.width = L - cl; s.paddingTop = 0; s.paddingBottom = 0; },
            ticks: { autoSkip: false, padding: 3, font, color: '#1a1a1a', callback: (v: any) => fmtTick(Number(v)) },
            grid: { display: false, drawTicks: false, tickLength: 0 },
            border: { display: false },
            title: { display: true, text: p.yTitle, font, color: '#1a1a1a', padding: { top: p.yTitleX - cl - 6, bottom: 0 } },
          },
        },
      } as any,
      plugins: [framePlugin as any],
    });
    return () => chart.destroy();
  }, [p]);
  const [cl, ct, cw, ch] = p.box;
  return (
    <canvas ref={ref} width={cw} height={ch}
      style={{ position: 'absolute', left: cl, top: ct, width: cw, height: ch, display: 'block' }} />
  );
}

const SERIF = '"Liberation Serif", "Times New Roman", serif';

function Hat() {
  return (
    <svg width={14} height={8} style={{ position: 'absolute', left: -2, top: -6, overflow: 'visible' }}>
      <polyline points="0.5,7.5 7,1 13.5,7.5" fill="none" stroke="#000" strokeWidth={1} />
    </svg>
  );
}

function Caption({ cx, cy, tag, sym, hat, cur }: { cx: number; cy: number; tag: string; sym: string; hat: boolean; cur: string }) {
  return (
    <div style={{
      position: 'absolute', left: cx, top: cy - 14, transform: 'translateX(-50%)', whiteSpace: 'nowrap',
      fontFamily: SERIF, fontSize: 26, lineHeight: '28px', letterSpacing: '1.5px', color: '#000',
    }}>
      {tag} Betas in terms of{' '}
      <span style={{ position: 'relative', display: 'inline-block' }}>
        <i>{sym}</i>
        {hat ? <Hat /> : null}
      </span>{' '}
      (<span style={{ fontSize: 19 }}>{cur}</span>)
    </div>
  );
}

export default function App() {
  return (
    <div style={{ position: 'absolute', left: 0, top: 0, width: 1057, height: 650, background: '#fff', overflow: 'hidden' }}>
      {PANELS.map((p) => <PanelChart key={p.key} p={p} />)}
      <div style={{ position: 'absolute', left: 1026, top: 260, fontFamily: SANS, fontSize: 10, lineHeight: '12px', color: '#1a1a1a' }}>x 10</div>
      <div style={{ position: 'absolute', left: 1046, top: 253, fontFamily: SANS, fontSize: 7.5, lineHeight: '9px', color: '#1a1a1a' }}>{'\u22123'}</div>
      <Caption cx={182} cy={297} tag="(a)" sym="f" hat={false} cur="ITL" />
      <Caption cx={533} cy={297} tag="(b)" sym="ff" hat={false} cur="ITL" />
      <Caption cx={880} cy={297} tag="(c)" sym="f" hat={true} cur="ITL" />
      <Caption cx={178} cy={635} tag="(d)" sym="f" hat={false} cur="DEM" />
      <Caption cx={528} cy={635} tag="(e)" sym="ff" hat={false} cur="DEM" />
      <Caption cx={875} cy={635} tag="(f)" sym="f" hat={true} cur="DEM" />
    </div>
  );
}
